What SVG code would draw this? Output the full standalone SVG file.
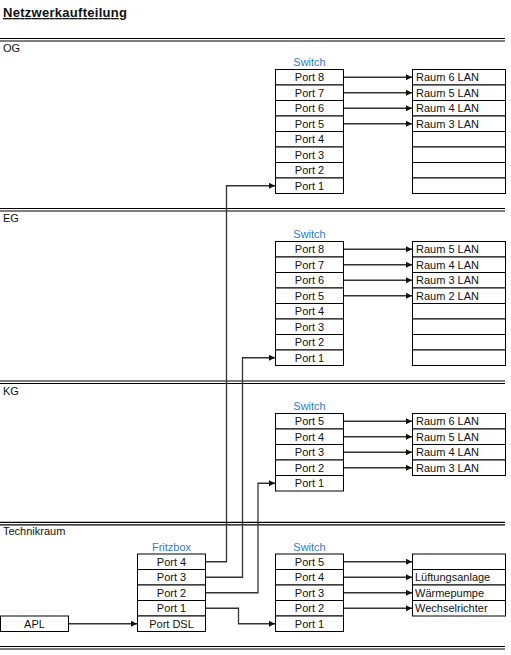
<svg xmlns="http://www.w3.org/2000/svg" width="511" height="655" viewBox="0 0 511 655">
<style>
.bg{fill:#fff}
.box{fill:#fff;stroke:#000;stroke-width:1}
.t{font-family:"Liberation Sans",Arial,sans-serif;font-size:11px;fill:#111}
.c{text-anchor:middle}
.lbl{fill:#2E7CD0}
.sep{stroke:#000;stroke-width:1.2}
.conn{fill:none;stroke:#333;stroke-width:1.3;marker-end:url(#ah)}
.title{font-family:"Liberation Sans",Arial,sans-serif;font-size:13px;font-weight:bold;text-decoration:underline;fill:#111}
</style>
<defs>
<marker id="ah" viewBox="0 0 10 10" refX="10" refY="5" markerWidth="5" markerHeight="5" markerUnits="strokeWidth" orient="auto">
<path d="M0,0 L10,5 L0,10 z" fill="#111"/>
</marker>
</defs>
<rect class="bg" x="0" y="0" width="511" height="655"/>
<text class="title" x="3" y="17" textLength="124">Netzwerkaufteilung</text>

<g id="separators">
<line class="sep" x1="0" y1="38.5" x2="505" y2="38.5"/><line class="sep" x1="0" y1="41" x2="505" y2="41"/>
<line class="sep" x1="0" y1="208.5" x2="505" y2="208.5"/><line class="sep" x1="0" y1="211" x2="505" y2="211"/>
<line class="sep" x1="0" y1="381" x2="505" y2="381"/><line class="sep" x1="0" y1="383.5" x2="505" y2="383.5"/>
<line class="sep" x1="0" y1="522.3" x2="505" y2="522.3"/><line class="sep" x1="0" y1="524.8" x2="505" y2="524.8"/>
<line class="sep" x1="0" y1="646.5" x2="505" y2="646.5"/><line class="sep" x1="0" y1="649" x2="505" y2="649"/>
</g>
<g id="section-labels">
<text class="t" x="3" y="51.5">OG</text>
<text class="t" x="3" y="222">EG</text>
<text class="t" x="3" y="395">KG</text>
<text class="t" x="3" y="535">Technikraum</text>
</g>

<g id="og-switch">
<text class="t c lbl" x="309.5" y="66">Switch</text>
<rect class="box" x="275.5" y="69.5" width="68" height="15.5"/><text class="t c" x="309.5" y="81.25">Port 8</text>
<rect class="box" x="275.5" y="85" width="68" height="15.5"/><text class="t c" x="309.5" y="96.75">Port 7</text>
<rect class="box" x="275.5" y="100.5" width="68" height="15.5"/><text class="t c" x="309.5" y="112.25">Port 6</text>
<rect class="box" x="275.5" y="116" width="68" height="15.5"/><text class="t c" x="309.5" y="127.75">Port 5</text>
<rect class="box" x="275.5" y="131.5" width="68" height="15.5"/><text class="t c" x="309.5" y="143.25">Port 4</text>
<rect class="box" x="275.5" y="147" width="68" height="15.5"/><text class="t c" x="309.5" y="158.75">Port 3</text>
<rect class="box" x="275.5" y="162.5" width="68" height="15.5"/><text class="t c" x="309.5" y="174.25">Port 2</text>
<rect class="box" x="275.5" y="178" width="68" height="15.5"/><text class="t c" x="309.5" y="189.75">Port 1</text>
</g>
<g id="og-rooms">
<rect class="box" x="412.5" y="69.5" width="93" height="15.5"/><text class="t" x="416" y="81.25">Raum 6 LAN</text>
<rect class="box" x="412.5" y="85" width="93" height="15.5"/><text class="t" x="416" y="96.75">Raum 5 LAN</text>
<rect class="box" x="412.5" y="100.5" width="93" height="15.5"/><text class="t" x="416" y="112.25">Raum 4 LAN</text>
<rect class="box" x="412.5" y="116" width="93" height="15.5"/><text class="t" x="416" y="127.75">Raum 3 LAN</text>
<rect class="box" x="412.5" y="131.5" width="93" height="15.5"/>
<rect class="box" x="412.5" y="147" width="93" height="15.5"/>
<rect class="box" x="412.5" y="162.5" width="93" height="15.5"/>
<rect class="box" x="412.5" y="178" width="93" height="15.5"/>
</g>

<g id="eg-switch">
<text class="t c lbl" x="309.5" y="238">Switch</text>
<rect class="box" x="275.5" y="241.5" width="68" height="15.5"/><text class="t c" x="309.5" y="253.25">Port 8</text>
<rect class="box" x="275.5" y="257" width="68" height="15.5"/><text class="t c" x="309.5" y="268.75">Port 7</text>
<rect class="box" x="275.5" y="272.5" width="68" height="15.5"/><text class="t c" x="309.5" y="284.25">Port 6</text>
<rect class="box" x="275.5" y="288" width="68" height="15.5"/><text class="t c" x="309.5" y="299.75">Port 5</text>
<rect class="box" x="275.5" y="303.5" width="68" height="15.5"/><text class="t c" x="309.5" y="315.25">Port 4</text>
<rect class="box" x="275.5" y="319" width="68" height="15.5"/><text class="t c" x="309.5" y="330.75">Port 3</text>
<rect class="box" x="275.5" y="334.5" width="68" height="15.5"/><text class="t c" x="309.5" y="346.25">Port 2</text>
<rect class="box" x="275.5" y="350" width="68" height="15.5"/><text class="t c" x="309.5" y="361.75">Port 1</text>
</g>
<g id="eg-rooms">
<rect class="box" x="412.5" y="241.5" width="93" height="15.5"/><text class="t" x="416" y="253.25">Raum 5 LAN</text>
<rect class="box" x="412.5" y="257" width="93" height="15.5"/><text class="t" x="416" y="268.75">Raum 4 LAN</text>
<rect class="box" x="412.5" y="272.5" width="93" height="15.5"/><text class="t" x="416" y="284.25">Raum 3 LAN</text>
<rect class="box" x="412.5" y="288" width="93" height="15.5"/><text class="t" x="416" y="299.75">Raum 2 LAN</text>
<rect class="box" x="412.5" y="303.5" width="93" height="15.5"/>
<rect class="box" x="412.5" y="319" width="93" height="15.5"/>
<rect class="box" x="412.5" y="334.5" width="93" height="15.5"/>
<rect class="box" x="412.5" y="350" width="93" height="15.5"/>
</g>

<g id="kg-switch">
<text class="t c lbl" x="309.5" y="410">Switch</text>
<rect class="box" x="275.5" y="413.5" width="68" height="15.5"/><text class="t c" x="309.5" y="425.25">Port 5</text>
<rect class="box" x="275.5" y="429" width="68" height="15.5"/><text class="t c" x="309.5" y="440.75">Port 4</text>
<rect class="box" x="275.5" y="444.5" width="68" height="15.5"/><text class="t c" x="309.5" y="456.25">Port 3</text>
<rect class="box" x="275.5" y="460" width="68" height="15.5"/><text class="t c" x="309.5" y="471.75">Port 2</text>
<rect class="box" x="275.5" y="475.5" width="68" height="15.5"/><text class="t c" x="309.5" y="487.25">Port 1</text>
</g>
<g id="kg-rooms">
<rect class="box" x="412.5" y="413.5" width="93" height="15.5"/><text class="t" x="416" y="425.25">Raum 6 LAN</text>
<rect class="box" x="412.5" y="429" width="93" height="15.5"/><text class="t" x="416" y="440.75">Raum 5 LAN</text>
<rect class="box" x="412.5" y="444.5" width="93" height="15.5"/><text class="t" x="416" y="456.25">Raum 4 LAN</text>
<rect class="box" x="412.5" y="460" width="93" height="15.5"/><text class="t" x="416" y="471.75">Raum 3 LAN</text>
</g>

<g id="apl">
<rect class="box" x="0.5" y="616" width="68" height="15.5"/><text class="t c" x="34.5" y="627.75">APL</text>
</g>
<g id="fritzbox">
<text class="t c lbl" x="171.5" y="550.5">Fritzbox</text>
<rect class="box" x="137.5" y="554" width="68" height="15.5"/><text class="t c" x="171.5" y="565.75">Port 4</text>
<rect class="box" x="137.5" y="569.5" width="68" height="15.5"/><text class="t c" x="171.5" y="581.25">Port 3</text>
<rect class="box" x="137.5" y="585" width="68" height="15.5"/><text class="t c" x="171.5" y="596.75">Port 2</text>
<rect class="box" x="137.5" y="600.5" width="68" height="15.5"/><text class="t c" x="171.5" y="612.25">Port 1</text>
<rect class="box" x="137.5" y="616" width="68" height="15.5"/><text class="t c" x="171.5" y="627.75">Port DSL</text>
</g>
<g id="tech-switch">
<text class="t c lbl" x="309.5" y="550.5">Switch</text>
<rect class="box" x="275.5" y="554" width="68" height="15.5"/><text class="t c" x="309.5" y="565.75">Port 5</text>
<rect class="box" x="275.5" y="569.5" width="68" height="15.5"/><text class="t c" x="309.5" y="581.25">Port 4</text>
<rect class="box" x="275.5" y="585" width="68" height="15.5"/><text class="t c" x="309.5" y="596.75">Port 3</text>
<rect class="box" x="275.5" y="600.5" width="68" height="15.5"/><text class="t c" x="309.5" y="612.25">Port 2</text>
<rect class="box" x="275.5" y="616" width="68" height="15.5"/><text class="t c" x="309.5" y="627.75">Port 1</text>
</g>
<g id="tech-devices">
<rect class="box" x="412.5" y="554" width="93" height="15.5"/>
<rect class="box" x="412.5" y="569.5" width="93" height="15.5"/><text class="t" x="415" y="581.25">Lüftungsanlage</text>
<rect class="box" x="412.5" y="585" width="93" height="15.5"/><text class="t" x="415" y="596.75">Wärmepumpe</text>
<rect class="box" x="412.5" y="600.5" width="93" height="15.5"/><text class="t" x="415" y="612.25">Wechselrichter</text>
</g>

<g id="connectors">
<path class="conn" d="M344,77.25 H412"/>
<path class="conn" d="M344,92.75 H412"/>
<path class="conn" d="M344,108.25 H412"/>
<path class="conn" d="M344,123.75 H412"/>
<path class="conn" d="M344,249.25 H412"/>
<path class="conn" d="M344,264.75 H412"/>
<path class="conn" d="M344,280.25 H412"/>
<path class="conn" d="M344,295.75 H412"/>
<path class="conn" d="M344,421.25 H412"/>
<path class="conn" d="M344,436.75 H412"/>
<path class="conn" d="M344,452.25 H412"/>
<path class="conn" d="M344,467.75 H412"/>
<path class="conn" d="M344,561.75 H412"/>
<path class="conn" d="M344,577.25 H412"/>
<path class="conn" d="M344,592.75 H412"/>
<path class="conn" d="M344,608.25 H412"/>
<path class="conn" d="M206,561.75 H226.5 V185.75 H275"/>
<path class="conn" d="M206,577.25 H242.5 V357.75 H275"/>
<path class="conn" d="M206,592.75 H258 V483.25 H275"/>
<path class="conn" d="M206,608.25 H238.5 V623.75 H275"/>
<path class="conn" d="M69,623.75 H137"/>
</g>
</svg>
